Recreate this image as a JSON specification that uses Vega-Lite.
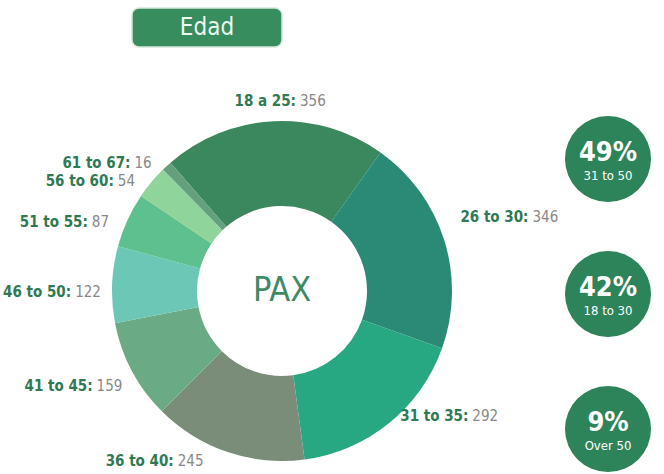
{
  "$schema": "https://vega.github.io/schema/vega-lite/v6.json",
  "padding": {"left": 0, "top": 7, "right": 0, "bottom": 0},
  "background": "white",
  "config": {"view": {"stroke": null}, "font": "DejaVu Sans Condensed, DejaVu Sans, sans-serif"},
  "bounds": "flush",
  "spacing": 99,
  "vconcat": [
    {
      "spacing": 0,
      "bounds": "flush",
      "hconcat": [
        {"width": 132, "height": 39, "data": {"values": [{}]}, "mark": "text", "encoding": {"text": {"value": ""}}},
        {
          "width": 150, "height": 39,
          "data": {"values": [{"title": "Edad"}]},
          "layer": [
            {"mark": {"type": "rect", "cornerRadius": 7, "fill": "#388d5f", "stroke": "#d5e8dc", "strokeWidth": 1.5},
             "encoding": {"x": {"value": 0}, "x2": {"value": "width"}, "y": {"value": 0}, "y2": {"value": "height"}}},
            {"mark": {"type": "text", "fontSize": 24, "fill": "#eef8f0", "baseline": "middle", "align": "center"},
             "encoding": {"text": {"field": "title"}}}
          ]
        }
      ]
    },
    {
      "spacing": 0,
      "bounds": "flush",
      "hconcat": [
        {
          "width": 564, "height": 368,
          "data": {"values": [
            {"label": "18 a 25:", "count": 356, "idx": 1},
            {"label": "26 to 30:", "count": 346, "idx": 2},
            {"label": "31 to 35:", "count": 292, "idx": 3},
            {"label": "36 to 40:", "count": 245, "idx": 4},
            {"label": "41 to 45:", "count": 159, "idx": 5},
            {"label": "46 to 50:", "count": 122, "idx": 6},
            {"label": "51 to 55:", "count": 87, "idx": 7},
            {"label": "56 to 60:", "count": 54, "idx": 8},
            {"label": "61 to 67:", "count": 16, "idx": 9}
          ]},
          "layer": [
            {"mark": {"type": "arc", "outerRadius": 170, "innerRadius": 85},
             "encoding": {
               "theta": {"field": "count", "type": "quantitative", "stack": true, "scale": {"range": [-0.7156, 5.5676]}},
               "order": {"field": "idx", "type": "quantitative"},
               "color": {"field": "label", "type": "nominal", "legend": null,
                 "scale": {"domain": ["18 a 25:", "26 to 30:", "31 to 35:", "36 to 40:", "41 to 45:", "46 to 50:", "51 to 55:", "56 to 60:", "61 to 67:"],
                           "range": ["#3c885e", "#2a8a75", "#27a882", "#7a8d79", "#6aab86", "#6cc7b6", "#5ec08e", "#8fd49b", "#64a07e"]}}
             }},
            {"mark": {"type": "text", "radius": 185, "align": "right", "baseline": "middle", "dx": 23, "dy": -5, "fontSize": 15, "fontWeight": "bold", "fill": "#2f7a55"},
             "encoding": {"theta": {"field": "count", "type": "quantitative", "stack": true}, "order": {"field": "idx", "type": "quantitative"}, "detail": {"field": "label"},
               "text": {"condition": {"test": "datum.idx == 1", "field": "label"}, "value": ""}}},
            {"mark": {"type": "text", "radius": 185, "align": "left", "baseline": "middle", "dx": 27, "dy": -5, "fontSize": 15, "fill": "#888888"},
             "encoding": {"theta": {"field": "count", "type": "quantitative", "stack": true}, "order": {"field": "idx", "type": "quantitative"}, "detail": {"field": "label"},
               "text": {"condition": {"test": "datum.idx == 1", "field": "count", "type": "quantitative"}, "value": ""}}},
            {"mark": {"type": "text", "radius": 185, "align": "right", "baseline": "middle", "dx": 70, "dy": -19, "fontSize": 15, "fontWeight": "bold", "fill": "#2f7a55"},
             "encoding": {"theta": {"field": "count", "type": "quantitative", "stack": true}, "order": {"field": "idx", "type": "quantitative"}, "detail": {"field": "label"},
               "text": {"condition": {"test": "datum.idx == 2 || datum.idx == 3", "field": "label"}, "value": ""}}},
            {"mark": {"type": "text", "radius": 185, "align": "left", "baseline": "middle", "dx": 74, "dy": -19, "fontSize": 15, "fill": "#888888"},
             "encoding": {"theta": {"field": "count", "type": "quantitative", "stack": true}, "order": {"field": "idx", "type": "quantitative"}, "detail": {"field": "label"},
               "text": {"condition": {"test": "datum.idx == 2 || datum.idx == 3", "field": "count", "type": "quantitative"}, "value": ""}}},
            {"mark": {"type": "text", "radius": 185, "align": "right", "baseline": "middle", "dx": -49, "dy": -5, "fontSize": 15, "fontWeight": "bold", "fill": "#2f7a55"},
             "encoding": {"theta": {"field": "count", "type": "quantitative", "stack": true}, "order": {"field": "idx", "type": "quantitative"}, "detail": {"field": "label"},
               "text": {"condition": {"test": "datum.idx == 4", "field": "label"}, "value": ""}}},
            {"mark": {"type": "text", "radius": 185, "align": "left", "baseline": "middle", "dx": -45, "dy": -5, "fontSize": 15, "fill": "#888888"},
             "encoding": {"theta": {"field": "count", "type": "quantitative", "stack": true}, "order": {"field": "idx", "type": "quantitative"}, "detail": {"field": "label"},
               "text": {"condition": {"test": "datum.idx == 4", "field": "count", "type": "quantitative"}, "value": ""}}},
            {"mark": {"type": "text", "radius": 185, "align": "right", "baseline": "middle", "dx": -26, "dy": 8, "fontSize": 15, "fontWeight": "bold", "fill": "#2f7a55"},
             "encoding": {"theta": {"field": "count", "type": "quantitative", "stack": true}, "order": {"field": "idx", "type": "quantitative"}, "detail": {"field": "label"},
               "text": {"condition": {"test": "datum.idx >= 5", "field": "label"}, "value": ""}}},
            {"mark": {"type": "text", "radius": 185, "align": "left", "baseline": "middle", "dx": -22, "dy": 8, "fontSize": 15, "fill": "#888888"},
             "encoding": {"theta": {"field": "count", "type": "quantitative", "stack": true}, "order": {"field": "idx", "type": "quantitative"}, "detail": {"field": "label"},
               "text": {"condition": {"test": "datum.idx >= 5", "field": "count", "type": "quantitative"}, "value": ""}}},
            {"data": {"values": [{"center": "PAX"}]},
             "mark": {"type": "text", "fontSize": 34, "fill": "#3f8a64", "baseline": "middle", "align": "center"},
             "encoding": {"text": {"field": "center"}}}
          ]
        },
        {
          "width": 88, "height": 368,
          "data": {"values": [
            {"pct": "49%", "group": "31 to 50", "k": 1},
            {"pct": "42%", "group": "18 to 30", "k": 2},
            {"pct": "9%", "group": "Over 50", "k": 3}
          ]},
          "encoding": {"y": {"field": "k", "type": "quantitative", "scale": {"domain": [0.615, 3.341], "reverse": true, "nice": false, "zero": false}, "axis": null}},
          "layer": [
            {"mark": {"type": "circle", "size": 7400, "color": "#2e845a", "opacity": 1}},
            {"mark": {"type": "text", "fontSize": 27, "fontWeight": "bold", "fill": "white", "baseline": "middle", "dy": -6}, "encoding": {"text": {"field": "pct"}}},
            {"mark": {"type": "text", "fontSize": 13, "fill": "white", "baseline": "middle", "dy": 17}, "encoding": {"text": {"field": "group"}}}
          ]
        }
      ]
    }
  ]
}
